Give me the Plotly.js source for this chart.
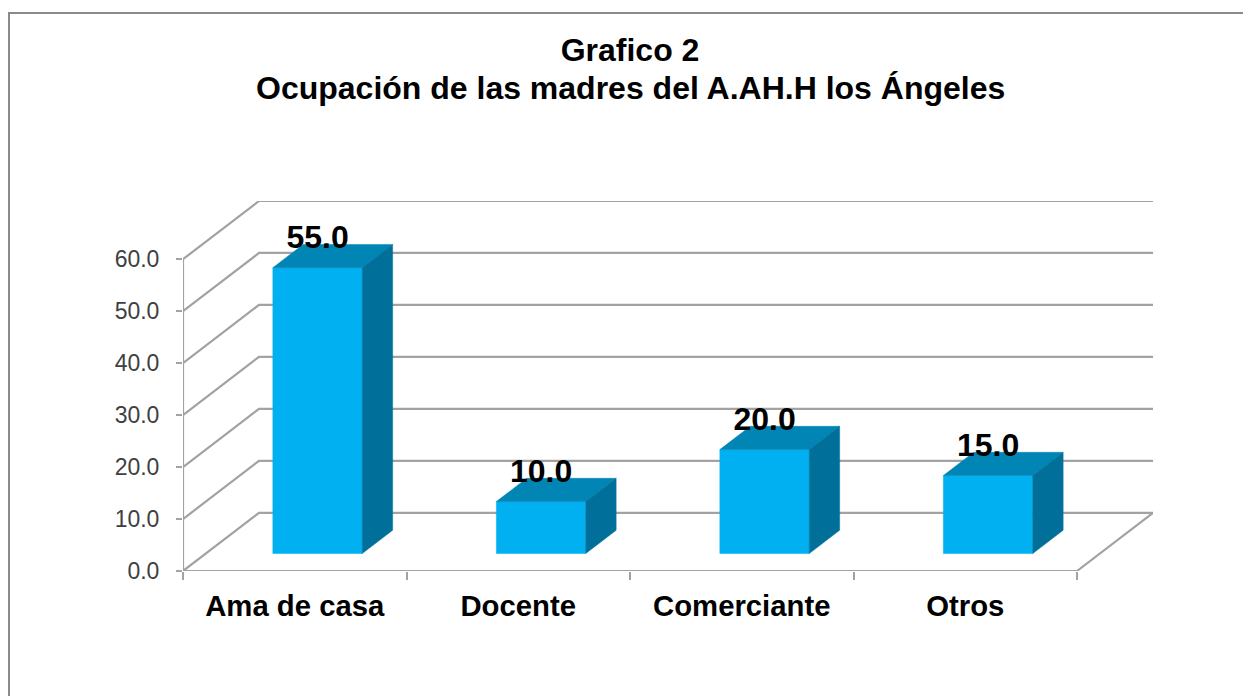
<!DOCTYPE html>
<html>
<head>
<meta charset="utf-8">
<script src="https://cdn.plot.ly/plotly-3.0.1.min.js"></script>
<style>
  html, body { margin: 0; padding: 0; background: #fff; overflow: hidden; }
  #grafica { width: 1243px; height: 696px; }
</style>
</head>
<body>
<div id="grafica"></div>
<script>
const titulo = 'Grafico 2';
const subtitulo = 'Ocupación de las madres del A.AH.H los Ángeles';
const categorias = ['Ama de casa', 'Docente', 'Comerciante', 'Otros'];
const valores = [55, 10, 20, 15];
const ticksY = [0, 10, 20, 30, 40, 50, 60];

// oblique depth of the fake 3D, in axis units
const fondoX = 0.34;
const fondoY = 11.2;
const anchoBarra = 0.4;
const inicioBarra = 0.3;   // where the bar starts inside the category
const frenteBarra = 0.3;   // share of the depth in front of the bar
const fondoBarra = 0.7;    // share of the depth behind the front of the floor
const arribaEtiqueta = 5.3;

const gris = '#a2a2a2';
const n = categorias.length;

function linea(x, y) {
    return {
        x: x, y: y, type: 'scatter', mode: 'lines',
        line: { color: gris, width: 2.2 },
        hoverinfo: 'skip', showlegend: false, cliponaxis: false
    };
}

function cara(x, y, color) {
    return {
        x: x, y: y, type: 'scatter', mode: 'lines', fill: 'toself',
        fillcolor: color, line: { color: color, width: 0.5 },
        hoverinfo: 'skip', showlegend: false, cliponaxis: false
    };
}

const data = [];

// back wall lines and floor
ticksY.forEach(v => {
    data.push(linea([0, fondoX, n + fondoX], [v, v + fondoY, v + fondoY]));
});
data.push(linea([0, 0], [0, ticksY[ticksY.length - 1]]));
data.push(linea([0, n, n + fondoX], [0, 0, fondoY]));

// the bars: front, top and side faces
valores.forEach((v, i) => {
    const x0 = i + inicioBarra + fondoX * frenteBarra;
    const x1 = x0 + anchoBarra;
    const y0 = fondoY * frenteBarra;
    const y1 = y0 + v;
    const dx = fondoX * (fondoBarra - frenteBarra);
    const dy = fondoY * (fondoBarra - frenteBarra);
    data.push(cara([x0, x1, x1, x0, x0], [y0, y0, y1, y1, y0], '#00b0f0'));
    data.push(cara([x0, x1, x1 + dx, x0 + dx, x0], [y1, y1, y1 + dy, y1 + dy, y1], '#0085b5'));
    data.push(cara([x1, x1 + dx, x1 + dx, x1, x1], [y0, y0 + dy, y1 + dy, y1, y0], '#00709a'));
});

// value labels
data.push({
    x: valores.map((v, i) => i + inicioBarra + fondoX * frenteBarra + anchoBarra / 2),
    y: valores.map(v => v + fondoY * frenteBarra + arribaEtiqueta),
    text: valores.map(v => v.toFixed(1)),
    type: 'scatter', mode: 'text', textposition: 'middle center',
    textfont: { family: 'Liberation Sans', size: 32, color: '#000', weight: 'bold' },
    hoverinfo: 'skip', showlegend: false, cliponaxis: false
});

const layout = {
    width: 1243,
    height: 696,
    margin: { l: 183, r: 90, t: 201, b: 125, pad: 0 },
    paper_bgcolor: '#fff',
    plot_bgcolor: 'rgba(0,0,0,0)',
    showlegend: false,
    title: {
        text: '<b>' + titulo + '</b>',
        font: { family: 'Liberation Sans', size: 32, color: '#000' },
        x: 630 / 1243, xanchor: 'center',
        y: 1 - 50 / 696, yanchor: 'middle'
    },
    annotations: [{
        text: '<b>' + subtitulo + '</b>',
        font: { family: 'Liberation Sans', size: 32, color: '#000' },
        xref: 'paper', yref: 'paper',
        x: (630 - 183) / 970, xanchor: 'center',
        y: (571 - 88) / 370, yanchor: 'middle',
        showarrow: false
    }],
    xaxis: {
        range: [0, n + fondoX],
        tickvals: categorias.map((c, i) => i + 0.5),
        ticktext: categorias,
        ticks: '', ticklen: 0,
        ticklabelstandoff: 15,
        tickfont: { family: 'Liberation Sans', size: 29.3, color: '#000', weight: 'bold' },
        minor: { tickvals: [0, 1, 2, 3, 4], ticks: 'outside', ticklen: 8, tickcolor: gris, tickwidth: 2 },
        showgrid: false, zeroline: false, showline: false, fixedrange: true
    },
    yaxis: {
        range: [0, 60 + fondoY],
        tickvals: ticksY,
        ticktext: ticksY.map(v => v.toFixed(1)),
        ticks: 'outside', ticklen: 6, tickcolor: gris, tickwidth: 2,
        ticklabelstandoff: 12,
        tickfont: { family: 'Liberation Sans', size: 23, color: '#404040' },
        showgrid: false, zeroline: false, showline: false, fixedrange: true
    },
    shapes: [{
        type: 'rect', xref: 'paper', yref: 'paper',
        x0: (9 - 183) / 970, x1: (1260 - 183) / 970,
        y0: (571 - 720) / 370, y1: (571 - 13) / 370,
        line: { color: '#8a8a8a', width: 2 }, fillcolor: 'rgba(0,0,0,0)', layer: 'below'
    }]
};

Plotly.newPlot('grafica', data, layout, { displayModeBar: false, staticPlot: true });
</script>
</body>
</html>
